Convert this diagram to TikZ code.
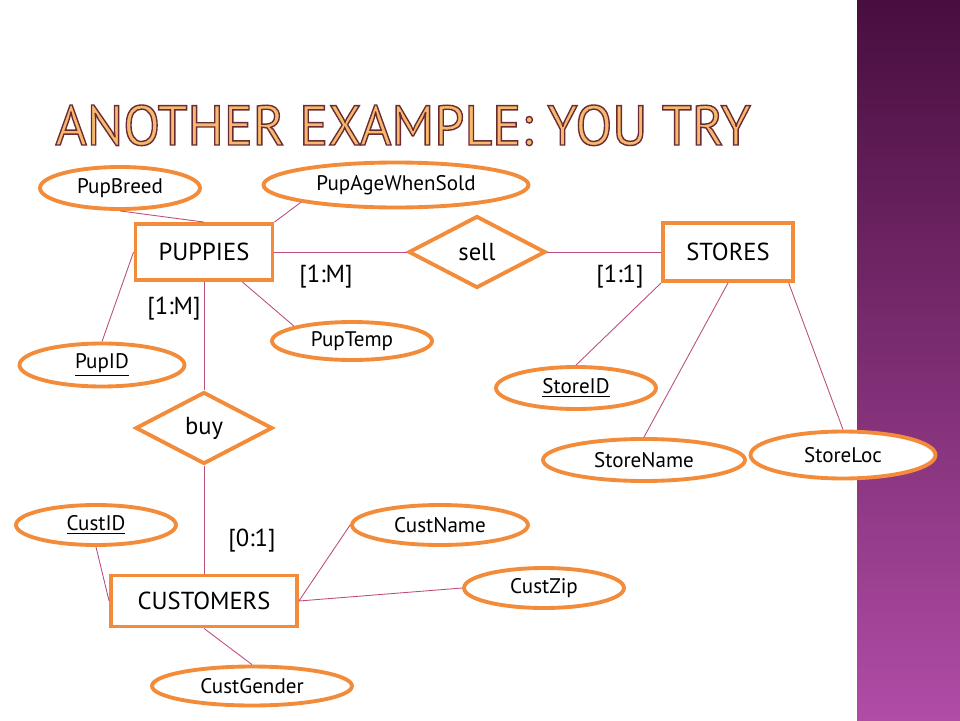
\documentclass[tikz,border=0pt]{standalone}
\usepackage{fontspec}
\setmainfont{PT Sans}
\usetikzlibrary{shapes.geometric}

\definecolor{erorange}{RGB}{243,140,58}
\definecolor{erline}{RGB}{186,78,128}
\definecolor{bartop}{RGB}{72,14,62}
\definecolor{barbot}{RGB}{176,76,166}
\definecolor{titlefill}{RGB}{247,185,110}

\tikzset{
  entity/.style={draw=erorange, line width=2.2pt, fill=white, inner sep=0pt,
    font=\fontsize{14}{16}\selectfont},
  attrib/.style={ellipse, draw=erorange, line width=2.2pt, fill=white, inner sep=0pt,
    minimum width=3.2cm, minimum height=0.8cm, font=\fontsize{12}{14}\selectfont},
  relation/.style={diamond, draw=erorange, line width=2.2pt, fill=white, inner sep=0pt,
    minimum width=2.74cm, minimum height=1.44cm, font=\fontsize{14}{16}\selectfont},
  link/.style={erline, line width=0.5pt},
  card/.style={font=\fontsize{14}{16}\selectfont}
}

\begin{document}
\begin{tikzpicture}[x=0.02cm, y=-0.02cm]
  \useasboundingbox (0,0) rectangle (960,720);

  % side bar
  \shade[top color=bartop, bottom color=barbot] (857,0) rectangle (960,720);

  % entities and relations
  \node[entity, minimum width=2.74cm, minimum height=1.12cm] (puppies) at (204,252) {PUPPIES};
  \node[entity, minimum width=2.6cm, minimum height=1.16cm] (stores) at (728,252) {STORES};
  \node[entity, minimum width=3.72cm, minimum height=1.02cm] (customers) at (204,601) {CUSTOMERS};
  \node[relation] (sell) at (477,252) {sell};
  \node[relation] (buy) at (204,428) {buy};

  % attributes
  \node[attrib, minimum height=0.84cm] (pupbreed) at (120,188) {PupBreed};
  \node[attrib, minimum width=5.3cm, minimum height=0.9cm] (pupage) at (396,185) {PupAgeWhenSold};
  \node[attrib, minimum height=0.76cm] (puptemp) at (352,341) {PupTemp};
  \node[attrib, minimum width=3.3cm, minimum height=0.86cm] (pupid) at (102,365) {\underline{PupID}};
  \node[attrib, minimum height=0.84cm] (storeid) at (576,388) {\underline{StoreID}};
  \node[attrib, minimum width=4.04cm, minimum height=0.84cm] (storename) at (644,460) {StoreName};
  \node[attrib, minimum width=3.7cm, minimum height=0.94cm] (storeloc) at (843,455) {StoreLoc};
  \node[attrib, minimum width=3.2cm] (custid) at (96,525) {\underline{CustID}};
  \node[attrib, minimum width=3.52cm] (custname) at (440,525) {CustName};
  \node[attrib] (custzip) at (544,588) {CustZip};
  \node[attrib, minimum width=4cm, minimum height=0.78cm] (custgender) at (252,686) {CustGender};

  % connectors
  \draw[link] (pupbreed.south) -- (puppies.north);
  \draw[link] (pupage.south west) -- (puppies.north east);
  \draw[link] (puppies.west) -- (pupid.north);
  \draw[link] (puppies.-38) -- (puptemp.north west);
  \draw[link] (puppies.east) -- (sell.west);
  \draw[link] (sell.east) -- (stores.west);
  \draw[link] (puppies.south) -- (buy.north);
  \draw[link] (buy.south) -- (customers.north);
  \draw[link] (stores.south west) -- (storeid.north);
  \draw[link] (stores.south) -- (storename.north);
  \draw[link] (stores.-27) -- (storeloc.north);
  \draw[link] (custid.south) -- (customers.west);
  \draw[link] (customers.east) -- (custname.west);
  \draw[link] (customers.east) -- (custzip.west);
  \draw[link] (customers.south) -- (custgender.north);

  % cardinalities
  \node[card] (cardsellp) at (326,277) {[1:M]};
  \node[card] (cardsells) at (620,277) {[1:1]};
  \node[card] (cardbuyp) at (174,309) {[1:M]};
  \node[card] (cardbuyc) at (252,541) {[0:1]};

  % title
  \node[anchor=base west, inner sep=0pt, text=titlefill, xscale=0.96,
    font=\fontsize{32}{36}\selectfont] (title) at (55,145)
    {\special{pdf:literal direct 2 Tr 0.8 w 0.42 0.17 0.2 RG}ANOTHER EXAMPLE: YOU TRY\special{pdf:literal direct 0 Tr}};
\end{tikzpicture}
\end{document}
